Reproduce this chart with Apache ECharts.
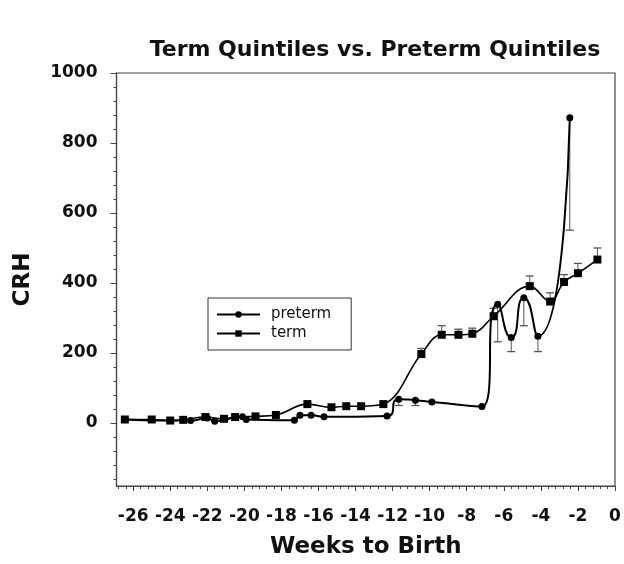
<!DOCTYPE html>
<html>
<head>
<meta charset="utf-8">
<script src="https://cdn.jsdelivr.net/npm/echarts@6/dist/echarts.min.js"></script>
<style>
html, body { margin: 0; padding: 0; background: #fff; }
#chart { width: 624px; height: 564px; }
</style>
</head>
<body>
<div id="chart"></div>
<script>
// weeks to birth vs CRH
var pretermData = [
    [-26.45, 10], [-22.9, 7], [-22.0, 14], [-21.6, 5], [-20.1, 18], [-19.9, 10],
    [-17.3, 8], [-17.0, 22], [-16.4, 22], [-15.7, 18], [-12.3, 20],
    [-11.67, 68], [-10.77, 65], [-9.88, 60], [-7.18, 47], [-6.33, 339],
    [-5.6, 244], [-4.92, 358], [-4.16, 248], [-2.44, 872]
];
var termData = [
    [-26.45, 10], [-25.0, 10], [-24.0, 7], [-23.3, 9], [-22.1, 17], [-21.1, 12],
    [-20.5, 17], [-19.4, 19], [-18.3, 23], [-16.6, 54], [-15.3, 45], [-14.5, 48],
    [-13.7, 48], [-12.5, 54], [-10.45, 197], [-9.35, 252], [-8.45, 252], [-7.7, 255],
    [-6.55, 305], [-4.6, 391], [-3.5, 347], [-2.75, 403], [-2.0, 428], [-0.95, 467]
];
// [week, mean, end of bar]
var pretermErr = [
    [-11.67, 68, 50], [-10.77, 65, 50], [-6.33, 339, 232], [-5.6, 244, 204],
    [-4.92, 358, 278], [-4.16, 248, 204], [-2.44, 872, 551]
];
var termErr = [
    [-10.45, 197, 213], [-9.35, 252, 278], [-8.45, 252, 268], [-7.7, 255, 271],
    [-6.55, 305, 328], [-4.6, 391, 420], [-3.5, 347, 372], [-2.75, 403, 424],
    [-2.0, 428, 456], [-0.95, 467, 500]
];
var xMajorTicks = [-26, -24, -22, -20, -18, -16, -14, -12, -10, -8, -6, -4, -2, 0];
var yMajorTicks = [0, 200, 400, 600, 800, 1000];

var xMinorTicks = [];
for (var i = 0; i <= 67; i++) xMinorTicks.push(Math.round((-26.8 + i * 0.4) * 10) / 10);
var yMinorTicks = [];
for (var j = 0; j <= 29; j++) yMinorTicks.push(-160 + j * 40);

var chart = echarts.init(document.getElementById("chart"));

var fontFam = "DejaVu Sans, Arial, sans-serif";

function errRender(params, api) {
    var x = api.value(0);
    var p1 = api.coord([x, api.value(1)]);
    var p2 = api.coord([x, api.value(2)]);
    var w = 4;
    return {
        type: 'group',
        children: [
            {type: 'line', shape: {x1: p1[0], y1: p1[1], x2: p2[0], y2: p2[1]}, style: {stroke: '#555', lineWidth: 1}},
            {type: 'line', shape: {x1: p2[0] - w, y1: p2[1], x2: p2[0] + w, y2: p2[1]}, style: {stroke: '#555', lineWidth: 1.3}}
        ]
    };
}

var option = {
    animation: false,
    title: {
        text: "Term Quintiles vs. Preterm Quintiles",
        left: 370,
        top: 34,
        textAlign: 'center',
        textStyle: {fontFamily: fontFam, fontWeight: 'bold', fontSize: 22, color: '#111'}
    },
    legend: {
        orient: 'vertical',
        left: 208,
        top: 298,
        padding: [8, 20, 8, 8],
        itemWidth: 43,
        itemHeight: 8,
        itemGap: 2,
        borderColor: '#333',
        borderWidth: 1,
        data: ['preterm', 'term'],
        textStyle: {fontFamily: fontFam, fontSize: 15, lineHeight: 17, color: '#111', padding: [0, 0, 0, 6]}
    },
    grid: {left: 116.5, right: 9, top: 73, bottom: 70.5, show: true, borderColor: '#444', borderWidth: 1.2},
    xAxis: [{
        type: 'value',
        min: -26.9,
        max: 0,
        name: 'Weeks to Birth',
        nameLocation: 'middle',
        nameGap: 50,
        nameTextStyle: {fontFamily: fontFam, fontWeight: 'bold', fontSize: 23, color: '#111'},
        axisLine: {show: true, onZero: false, lineStyle: {color: '#444', width: 1.2}},
        axisTick: {show: true, length: 5, customValues: xMajorTicks, lineStyle: {color: '#444'}},
        axisLabel: {customValues: xMajorTicks, margin: 22, fontFamily: fontFam, fontWeight: 'bold', fontSize: 17, color: '#111'},
        splitLine: {show: false}
    }, {
        type: 'value',
        min: -26.9,
        max: 0,
        position: 'bottom',
        axisLine: {show: false, onZero: false},
        axisTick: {show: true, length: 3, customValues: xMinorTicks, lineStyle: {color: '#444'}},
        axisLabel: {show: false},
        splitLine: {show: false}
    }],
    yAxis: [{
        type: 'value',
        min: -180,
        max: 1000,
        name: 'CRH',
        nameLocation: 'middle',
        nameGap: 82,
        nameRotate: 90,
        nameTextStyle: {fontFamily: fontFam, fontWeight: 'bold', fontSize: 23, color: '#111'},
        axisLine: {show: true, onZero: false, lineStyle: {color: '#444', width: 1.2}},
        axisTick: {show: true, length: 6, customValues: yMajorTicks, lineStyle: {color: '#444'}},
        axisLabel: {customValues: yMajorTicks, margin: 19, formatter: function (v) { return String(v); }, fontFamily: fontFam, fontWeight: 'bold', fontSize: 17, color: '#111'},
        splitLine: {show: false}
    }, {
        type: 'value',
        min: -180,
        max: 1000,
        position: 'left',
        offset: 0,
        axisLine: {show: false, onZero: false},
        axisTick: {show: true, length: 3, customValues: yMinorTicks, lineStyle: {color: '#444'}},
        axisLabel: {show: false},
        splitLine: {show: false}
    }],
    series: [{
        name: 'preterm',
        type: 'line',
        data: pretermData,
        smooth: 0.7,
        symbol: 'circle',
        symbolSize: 7,
        itemStyle: {color: '#000'},
        lineStyle: {color: '#000', width: 2}
    }, {
        name: 'term',
        type: 'line',
        data: termData,
        smooth: 0.4,
        symbol: 'rect',
        symbolSize: 8,
        itemStyle: {color: '#000'},
        lineStyle: {color: '#000', width: 1.6}
    }, {
        type: 'custom',
        data: pretermErr,
        renderItem: errRender,
        encode: {x: 0, y: [1, 2]},
        z: 1
    }, {
        type: 'custom',
        data: termErr,
        renderItem: errRender,
        encode: {x: 0, y: [1, 2]},
        z: 1
    }]
};

chart.setOption(option);
</script>
</body>
</html>
